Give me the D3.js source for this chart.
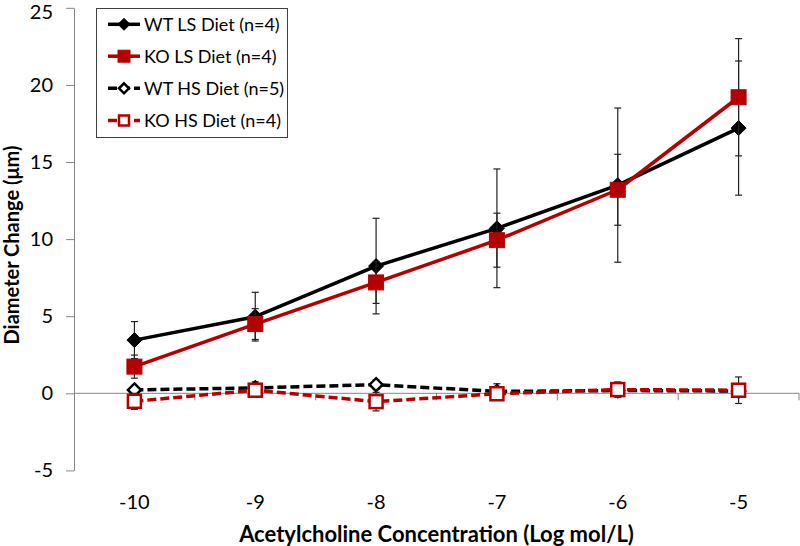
<!DOCTYPE html>
<html><head><meta charset="utf-8">
<script src="https://cdn.jsdelivr.net/npm/d3@7"></script>
<style>
body{margin:0;background:#fff;}
svg{display:block;font-family:Lato,"Open Sans",sans-serif;}
</style></head>
<body><svg id="chart" width="800" height="546"></svg>
<script>
const categories = ["-10","-9","-8","-7","-6","-5"];
const yTicks = [-5,0,5,10,15,20,25];
const wtLS = [3.45, 4.97, 8.25, 10.7, 13.5, 17.2];
const wtLSErr = [1.2, 1.58, 3.1, 3.85, 5.0, 4.35];
const koLS = [1.73, 4.49, 7.19, 9.93, 13.2, 19.2];
const koLSErr = [0.75, 1.0, 1.36, 1.75, 2.3, 3.8];
const wtHS = [0.22, 0.35, 0.56, 0.12, 0.18, 0.15];
const wtHSErr = [0.2, 0.4, 0.3, 0.5, 0.3, 0.3];
const koHS = [-0.52, 0.2, -0.54, -0.03, 0.24, 0.2];
const koHSErr = [0.52, 0.3, 0.6, 0.3, 0.5, 0.86];
const seriesNames = ["WT LS Diet (n=4)","KO LS Diet (n=4)","WT HS Diet (n=5)","KO HS Diet (n=4)"];

const RED = "#b40000";
const series = [
  {name:seriesNames[0], vals:wtLS, err:wtLSErr, color:"#000", dash:null, marker:"diamond", fill:"#000"},
  {name:seriesNames[1], vals:koLS, err:koLSErr, color:RED, dash:null, marker:"square", fill:RED},
  {name:seriesNames[2], vals:wtHS, err:wtHSErr, color:"#000", dash:"9,4", marker:"diamond", fill:"#fff"},
  {name:seriesNames[3], vals:koHS, err:koHSErr, color:RED, dash:"9,4", marker:"square", fill:"#fff"}
];

const svg = d3.select("#chart");
const x = d3.scaleBand().domain(categories).range([74, 799]).padding(0);
const y = d3.scaleLinear().domain([-5, 25]).range([470.4, 7.8]);
const cx = c => x(c) + x.bandwidth()/2;

// Y axis
const yAxis = svg.append("g").attr("transform","translate(74,0)")
  .call(d3.axisLeft(y).tickValues(yTicks).tickFormat(d => String(d)).tickSize(8).tickSizeOuter(0).tickPadding(13));
yAxis.select(".domain").attr("stroke","#868686");
yAxis.selectAll(".tick line").attr("stroke","#868686");
yAxis.selectAll(".tick text").attr("font-size",20).attr("fill","#000").attr("font-family","Lato,sans-serif");
yAxis.selectAll(".tick").filter(d => d === 25).select("text").attr("dy","0.55em");

// X axis line at 0
const xg = svg.append("g");
xg.append("line").attr("x1",x.range()[0]).attr("x2",x.range()[1])
  .attr("y1",y(0)).attr("y2",y(0)).attr("stroke","#868686").attr("stroke-width",1);
const edges = categories.map(c => x(c)).concat([x(categories[categories.length-1]) + x.bandwidth()]);
xg.selectAll("line.tk").data(edges.slice(1)).enter().append("line").attr("class","tk")
  .attr("x1",d=>d).attr("x2",d=>d).attr("y1",y(0)).attr("y2",y(0)+7)
  .attr("stroke","#868686");
xg.selectAll("text").data(categories).enter().append("text")
  .attr("x",d=>cx(d)).attr("y",509).attr("text-anchor","middle")
  .attr("font-size",20).attr("fill","#000").text(d=>d);

// Axis titles
svg.append("text").attr("x",436.5).attr("y",542).attr("text-anchor","middle")
  .attr("font-size",22).attr("font-weight","bold").text("Acetylcholine Concentration (Log mol/L)");
svg.append("text").attr("transform","translate(19,245) rotate(-90)").attr("text-anchor","middle")
  .attr("font-size",20).attr("font-weight","bold").text("Diameter Change (μm)");

function drawMarker(g, type, px, py, color, fill, size){
  const r = size/2;
  if(type==="diamond"){
    g.append("path").attr("d",`M${px},${py-r}L${px+r},${py}L${px},${py+r}L${px-r},${py}Z`)
      .attr("fill",fill).attr("stroke",color).attr("stroke-width", fill==="#fff"?2.5:1);
  } else {
    g.append("rect").attr("x",px-r).attr("y",py-r).attr("width",size).attr("height",size)
      .attr("fill",fill).attr("stroke",color).attr("stroke-width", fill==="#fff"?2.5:1);
  }
}

const line = d3.line().x((d,i)=>cx(categories[i])).y(d=>y(d));

series.forEach(s => {
  const g = svg.append("g");
  s.vals.forEach((v,i) => {
    const px = cx(categories[i]);
    const e = s.err[i];
    g.append("line").attr("x1",px).attr("x2",px).attr("y1",y(v+e)).attr("y2",y(v-e))
      .attr("stroke","#222").attr("stroke-width",1.2);
    [v+e, v-e].forEach(t => g.append("line").attr("x1",px-3.5).attr("x2",px+3.5)
      .attr("y1",y(t)).attr("y2",y(t)).attr("stroke","#222").attr("stroke-width",1.2));
  });
  g.append("path").attr("d", line(s.vals)).attr("fill","none")
    .attr("stroke",s.color).attr("stroke-width",3.5)
    .attr("stroke-dasharray", s.dash).attr("stroke-linejoin","round");
  s.vals.forEach((v,i) => {
    const sz = s.fill==="#fff" ? 13 : 15;
    drawMarker(g, s.marker, cx(categories[i]), y(v), s.color, s.fill, sz);
  });
});

// Legend
const lg = svg.append("g");
lg.append("rect").attr("x",96.5).attr("y",8.5).attr("width",191).attr("height",129)
  .attr("fill","#fff").attr("stroke","#404040").attr("stroke-width",1);
const rowY = [24.3, 56.2, 88.3, 120.5];
series.forEach((s,i) => {
  const ly = rowY[i];
  lg.append("line").attr("x1",108).attr("x2",140).attr("y1",ly).attr("y2",ly)
    .attr("stroke",s.color).attr("stroke-width",3.5).attr("stroke-dasharray", s.dash ? "9,4" : null);
  drawMarker(lg, s.marker, 124, ly, s.color, s.fill, s.fill==="#fff"?10:12);
  lg.append("text").attr("x",144).attr("y",ly+6.5).attr("font-size",18).attr("fill","#000").text(s.name);
});
</script></body></html>
